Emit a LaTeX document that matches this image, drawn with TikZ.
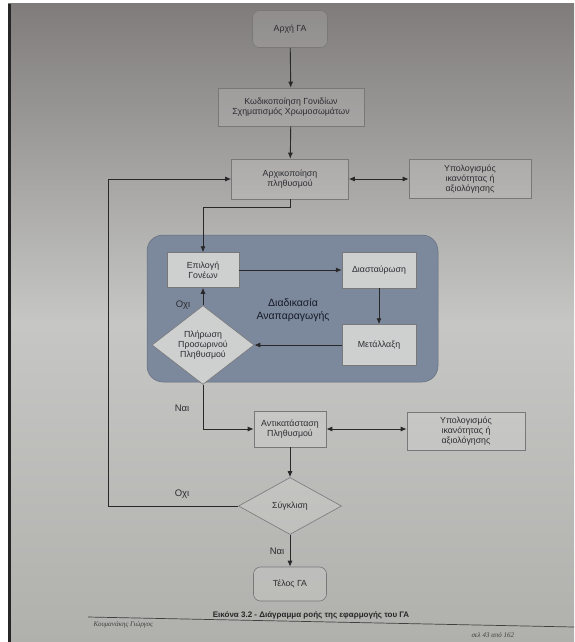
\documentclass[tikz,border=0pt]{standalone}
\usepackage{fontspec}
\setmainfont{Liberation Sans}
\newfontfamily\serifit{Liberation Serif}
\usetikzlibrary{arrows.meta,shapes.geometric}
\definecolor{pagetop}{RGB}{128,124,124}
\definecolor{pagemid}{RGB}{198,199,196}
\definecolor{pagebot}{RGB}{176,177,173}
\definecolor{panelcol}{RGB}{124,137,156}
\definecolor{innerbox}{RGB}{206,207,207}
\definecolor{linecol}{RGB}{40,40,42}
\definecolor{boxline}{RGB}{120,120,122}
\definecolor{txt}{RGB}{45,45,50}
\definecolor{paneltxt}{RGB}{22,26,40}
\begin{document}
\begin{tikzpicture}[x=1pt,y=-1pt,
  boxtxt/.style={font=\fontsize{8.8}{10.4}\selectfont, text=txt, align=center},
  outbox/.style={draw=boxline, line width=0.6pt, fill=white, fill opacity=0.12, text opacity=1, inner sep=0pt, boxtxt},
  inbox/.style={draw=boxline, line width=0.5pt, fill=innerbox, inner sep=0pt, boxtxt},
  term/.style={outbox, rounded corners=7pt},
  decis/.style={diamond, draw=boxline, line width=0.6pt, inner sep=0pt, boxtxt},
  arr/.style={draw=linecol, line width=0.9pt, -{Latex[length=6pt,width=5pt]}},
  darr/.style={draw=linecol, line width=0.9pt, {Latex[length=6pt,width=5pt]}-{Latex[length=6pt,width=5pt]}},
  lbl/.style={font=\fontsize{9.5}{11}\selectfont, text=txt}
]
\useasboundingbox (0,0) rectangle (574,642);
% background photo page
\fill[white] (0,0) rectangle (574,642);
\shade[top color=pagetop, bottom color=pagebot, middle color=pagemid] (8,4) rectangle (574,642);
\fill[black!85] (8,4) rectangle (11,642);

% panel
\node[draw=panelcol!80!black, line width=0.5pt, fill=panelcol, rounded corners=16pt,
      minimum width=291pt, minimum height=147pt, inner sep=0pt] (panel) at (292.5,308.5) {};
\node[font=\fontsize{10.5}{13}\selectfont, text=paneltxt, align=center] (panellbl) at (293,310) {Διαδικασία\\Αναπαραγωγής};

% nodes
\node[term, minimum width=75pt, minimum height=37pt] (start) at (290,29) {Αρχή ΓΑ};
\node[outbox, minimum width=146pt, minimum height=38pt] (kod) at (291,107) {Κωδικοποίηση Γονιδίων\\Σχηματισμός Χρωμοσωμάτων};
\node[outbox, minimum width=117pt, minimum height=40pt] (init) at (290,179) {Αρχικοποίηση\\πληθυσμού};
\node[outbox, minimum width=122pt, minimum height=39pt] (fita) at (470,179) {Υπολογισμός\\ικανότητας ή\\αξιολόγησης};
\node[inbox, minimum width=72pt, minimum height=35pt] (sel) at (203,270) {Επιλογή\\Γονέων};
\node[inbox, minimum width=74pt, minimum height=36pt] (cross) at (379,270) {Διασταύρωση};
\node[inbox, minimum width=74pt, minimum height=41pt] (mut) at (379,345) {Μετάλλαξη};
\node[decis, fill=innerbox, minimum width=102pt, minimum height=57pt] (fill) at (203,345) {Πλήρωση\\Προσωρινού\\Πληθυσμού};
\node[outbox, minimum width=72pt, minimum height=36pt] (repl) at (290,429) {Αντικατάσταση\\Πληθυσμού};
\node[outbox, minimum width=118pt, minimum height=38pt] (fitb) at (466,431) {Υπολογισμός\\ικανότητας ή\\αξιολόγησης};
\node[decis, fill=white, fill opacity=0.12, text opacity=1, minimum width=103pt, minimum height=57pt] (conv) at (290,506) {Σύγκλιση};
\node[term, minimum width=73pt, minimum height=34pt] (end) at (290,584) {Τέλος ΓΑ};

% labels
\node[lbl] (no1) at (183,305) {Οχι};
\node[lbl] (yes1) at (182,408) {Ναι};
\node[lbl] (no2) at (182,494) {Οχι};
\node[lbl] (yes2) at (277,551) {Ναι};

% connectors
\draw[arr] (start) -- (kod);
\draw[arr] (kod) -- (init);
\draw[darr] (init) -- (fita);
\draw[arr] (init.south) -- ++(0,8) -| (sel.north);
\draw[arr] (sel) -- (cross);
\draw[arr] (cross) -- (mut);
\draw[arr] (mut) -- (fill);
\draw[arr] (fill.north) -- (sel.south);
\draw[arr] (fill.south) |- (repl.west);
\draw[darr] (repl.east) -- (fitb.west |- repl.east);
\draw[arr] (repl) -- (conv);
\draw[arr] (conv.west) -- ++(-130,0) coordinate (loopc) |- (init.west);
\draw[arr] (conv) -- (end);

% caption and footer
\node[font=\bfseries\fontsize{8}{10}\selectfont, text=black!85] (cap) at (311,615) {Εικόνα 3.2 - Διάγραμμα ροής της εφαρμογής του ΓΑ};
\coordinate (fl) at (88,617);
\coordinate (fr) at (574,627);
\draw[black!75, line width=0.7pt] (fl) -- (fr);
\node[font=\serifit\itshape\fontsize{7}{8}\selectfont, text=black!75, anchor=west] (auth) at (90,625) {Κουμανάκης Γιώργος};
\node[font=\serifit\itshape\fontsize{7}{8}\selectfont, text=black!75, anchor=west] (page) at (468,635) {σελ 43 από 162};
\end{tikzpicture}
\end{document}
